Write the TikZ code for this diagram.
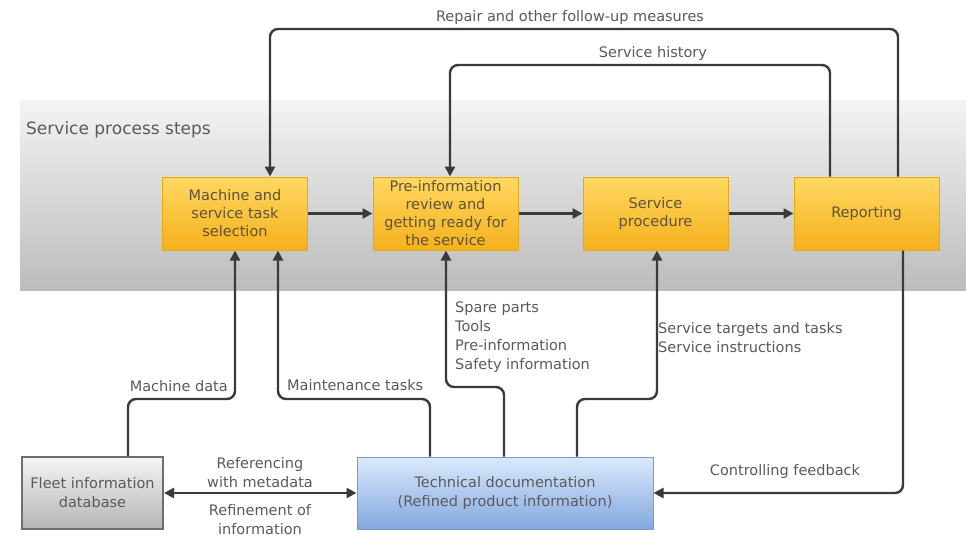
\documentclass[tikz,border=0pt]{standalone}
\usepackage{fontspec}
\setmainfont{DejaVu Sans}
\usetikzlibrary{arrows.meta,shadings}

\definecolor{linec}{HTML}{3A3A3A}
\definecolor{labelc}{HTML}{5A5A5A}
\definecolor{boxtext}{HTML}{5E5238}
\definecolor{stepA}{HTML}{FFD862}
\definecolor{stepB}{HTML}{F5B11C}
\definecolor{stepline}{HTML}{E9A912}
\definecolor{bandA}{HTML}{F4F4F4}
\definecolor{bandB}{HTML}{BCBCBC}
\definecolor{fleetA}{HTML}{F5F5F5}
\definecolor{fleetB}{HTML}{B5B5B5}
\definecolor{fleetline}{HTML}{6E6E6E}
\definecolor{docA}{HTML}{DCE9FC}
\definecolor{docB}{HTML}{82A8E0}
\definecolor{docline}{HTML}{7A9CCB}

\begin{document}
\begin{tikzpicture}[x=1pt,y=-1pt,
  stepbox/.style={draw=stepline, line width=1pt, top color=stepA, bottom color=stepB,
    minimum width=145pt, minimum height=73pt, align=center, inner sep=2pt,
    text=boxtext, font=\fontsize{14.5}{18}\selectfont},
  fleetbox/.style={draw=fleetline, line width=2pt, top color=fleetA, bottom color=fleetB,
    minimum width=141pt, minimum height=72pt, align=center, inner sep=2pt,
    text=labelc, font=\fontsize{14.5}{19}\selectfont},
  docbox/.style={draw=docline, line width=1pt, top color=docA, bottom color=docB,
    minimum width=296pt, minimum height=72pt, align=center, inner sep=2pt,
    text=labelc, font=\fontsize{14.5}{19}\selectfont},
  lbl/.style={text=labelc, font=\fontsize{14.5}{19}\selectfont, inner sep=0pt},
  conn/.style={draw=linec, line width=2.4pt, rounded corners=8pt,
    -{Triangle[length=10pt,width=10pt]}},
  dconn/.style={draw=linec, line width=2.6pt,
    {Triangle[length=10pt,width=10pt]}-{Triangle[length=10pt,width=10pt]}}
]
\useasboundingbox (0,0) rectangle (966,539);
\fill[white] (0,0) rectangle (966,539);

% process lane
\shade[top color=bandA, bottom color=bandB] (20,100) rectangle (966,290);
\node[lbl, anchor=west, font=\fontsize{17}{20}\selectfont] (lane) at (26,130) {Service process steps};

% process steps
\node[stepbox] (sel)  at (235,213.5) {Machine and\\service task\\selection};
\node[stepbox] (pre)  at (445.5,213.5) {Pre-information\\review and\\getting ready for\\the service};
\node[stepbox] (proc) at (655.5,213.5) {Service\\procedure};
\node[stepbox] (rep)  at (866.5,213.5) {Reporting};

% information sources
\node[fleetbox] (fleet) at (92.5,493) {Fleet information\\database};
\node[docbox] (tech) at (505,493) {Technical documentation\\(Refined product information)};

% main flow
\draw[conn] (sel) -- (pre);
\draw[conn] (pre) -- (proc);
\draw[conn] (proc) -- (rep);

% routing levels
\coordinate (lvRepair) at (0,29);
\coordinate (lvHistory) at (0,65);
\coordinate (lvLow) at (0,399);
\coordinate (lvSpare) at (0,387);

% feedback loops above the lane
\coordinate (rA) at ([xshift=31.5pt]rep.north);
\coordinate (rB) at ([xshift=35pt]sel.north);
\draw[conn] (rA) -- (rA |- lvRepair) -- (rB |- lvRepair) -- (rB);
\node[lbl] (lrepair) at (570,17) {Repair and other follow-up measures};

\coordinate (hA) at ([xshift=-36.5pt]rep.north);
\coordinate (hB) at ([xshift=4.5pt]pre.north);
\draw[conn] (hA) -- (hA |- lvHistory) -- (hB |- lvHistory) -- (hB);
\node[lbl] (lhistory) at (653,53) {Service history};

% inputs from below
\coordinate (mA) at ([xshift=35.5pt]fleet.north);
\draw[conn] (mA) -- (mA |- lvLow) -- (sel.south |- lvLow) -- (sel.south);
\node[lbl, anchor=east] (lmachine) at (228,386) {Machine data};

\coordinate (tA) at ([xshift=-75pt]tech.north);
\coordinate (tB) at ([xshift=43pt]sel.south);
\draw[conn] (tA) -- (tA |- lvLow) -- (tB |- lvLow) -- (tB);
\node[lbl, anchor=west] (lmaint) at (287,385) {Maintenance tasks};

\coordinate (sA) at ([xshift=-1pt]tech.north);
\coordinate (sB) at ([xshift=0.5pt]pre.south);
\draw[conn] (sA) -- (sA |- lvSpare) -- (sB |- lvSpare) -- (sB);
\node[lbl, anchor=north west, align=left] (lspare) at (455,302)
  {Spare parts\\Tools\\Pre-information\\Safety information};

\coordinate (gA) at ([xshift=72pt]tech.north);
\coordinate (gB) at ([xshift=1.5pt]proc.south);
\draw[conn] (gA) -- (gA |- lvLow) -- (gB |- lvLow) -- (gB);
\node[lbl, anchor=north west, align=left] (ltargets) at (658,322)
  {Service targets and tasks\\Service instructions};

% controlling feedback
\coordinate (cA) at ([xshift=36.5pt]rep.south);
\draw[conn] (cA) -- (cA |- tech.east) -- (tech.east);
\node[lbl] (lcontrol) at (785,471) {Controlling feedback};

% exchange between database and documentation
\draw[dconn] (fleet.east) -- (tech.west);
\node[lbl, align=center] (lref) at (260,473) {Referencing\\with metadata};
\node[lbl, align=center] (lrefine) at (260,520) {Refinement of\\information};
\end{tikzpicture}
\end{document}
